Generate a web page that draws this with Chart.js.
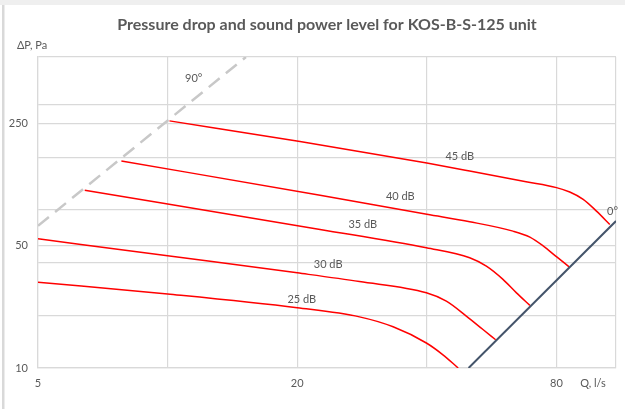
<!DOCTYPE html>
<html>
<head>
<meta charset="utf-8">
<script src="https://cdn.jsdelivr.net/npm/chart.js@4"></script>
<style>
  body { margin: 0; background: #fff; }
  #wrap { position: relative; width: 625px; height: 409px; }
</style>
</head>
<body>
<div id="wrap"><canvas id="myChart" width="625" height="409"></canvas></div>
<script>
// axis ticks (gridlines) and which ones get labels
const xGrid = [5, 10, 20, 40, 80, 110];
const xLabels = [5, 20, 80];
const yGrid = [10, 20, 40, 50, 80, 160, 250, 320, 600];
const yLabels = [10, 50, 250];

// damper position lines
const q90 = [5, 15.2];
const p90 = [65, 600];
const q0 = [50, 110];
const p0 = [10, 69.2];

// sound power level curves (Q l/s, dP Pa)
const q45 = [10.1, 20.3, 40, 50.3, 68, 80, 85.9, 92.3, 99.1, 106.4];
const p45 = [258.8, 197, 148.5, 133.8, 116.1, 107.5, 101.4, 92.1, 78.9, 66.2];
const q40 = [7.81, 22.6, 40, 50.3, 63.4, 69.4, 74.5, 80, 85.6];
const p40 = [152.7, 97.1, 75.6, 68.6, 60.6, 56.0, 49.9, 43.3, 37.9];
const q35 = [6.42, 22.6, 39.9, 50.3, 55, 60.1, 64.6, 69.4];
const p35 = [103.7, 62.0, 48.7, 42.7, 38.2, 32.1, 26.9, 22.8];
const q30 = [5, 10, 20, 27.9, 39.9, 44.4, 49.4, 54, 57.8];
const p30 = [54.8, 43.8, 35.0, 31.2, 26.9, 24.1, 19.8, 16.6, 14.5];
const q25 = [5, 10, 20, 27.9, 33.4, 39.9, 43.6, 47.3];
const p25 = [30.9, 26.5, 22.1, 19.6, 17.2, 13.9, 11.9, 10];

// curve labels: text, Q, dP
const labelText = ["45 dB", "40 dB", "35 dB", "30 dB", "25 dB", "90°", "0°"];
const labelQ = [47.7, 34.7, 28.4, 23.6, 20.5, 11.5, 108];
const labelP = [163, 95.4, 66.2, 39.1, 24.6, 452, 78.3];

const textColor = "#595959";
const gridColor = "#d9d9d9";

function pts(xs, ys) {
  return xs.map((x, i) => ({ x: x, y: ys[i] }));
}

function redLine(xs, ys) {
  return {
    data: pts(xs, ys),
    borderColor: "#ff0000",
    borderWidth: 1.5,
    pointRadius: 0,
    showLine: true,
    cubicInterpolationMode: "monotone",
  };
}

const framePlugin = {
  id: "frame",
  beforeDraw(chart) {
    const ctx = chart.ctx;
    ctx.save();
    ctx.fillStyle = "#fff";
    ctx.fillRect(0, 0, chart.width, chart.height);
    ctx.fillStyle = "#efefef";
    ctx.fillRect(0, 0, chart.width, 5);
    ctx.fillStyle = "#d9d9d9";
    ctx.fillRect(2, 5, 2.5, chart.height - 5);
    ctx.restore();
  },
  afterDraw(chart) {
    const ctx = chart.ctx;
    const xs = chart.scales.x;
    const ys = chart.scales.y;
    ctx.save();
    ctx.fillStyle = textColor;
    ctx.textAlign = "center";
    ctx.textBaseline = "middle";
    ctx.font = "bold 16px Lato";
    ctx.fillText("Pressure drop and sound power level for KOS-B-S-125 unit", 327, 25);
    ctx.font = "11px Lato";
    ctx.fillText("ΔP, Pa", 32, 45);
    ctx.fillText("Q, l/s", 593, 383);
    labelText.forEach((t, i) => {
      ctx.fillText(t, xs.getPixelForValue(labelQ[i]), ys.getPixelForValue(labelP[i]));
    });
    ctx.restore();
  },
};

new Chart("myChart", {
  type: "scatter",
  data: {
    datasets: [
      {
        data: pts(q90, p90),
        borderColor: "#c8c8c8",
        borderWidth: 2.5,
        borderDash: [14, 8],
        pointRadius: 0,
        showLine: true,
      },
      {
        data: pts(q0, p0),
        borderColor: "#44546a",
        borderWidth: 2,
        pointRadius: 0,
        showLine: true,
      },
      redLine(q45, p45),
      redLine(q40, p40),
      redLine(q35, p35),
      redLine(q30, p30),
      redLine(q25, p25),
    ],
  },
  options: {
    responsive: false,
    animation: false,
    layout: { padding: { top: 57, right: 9, left: 0, bottom: 0 } },
    plugins: {
      legend: { display: false },
      tooltip: { enabled: false },
    },
    scales: {
      x: {
        type: "logarithmic",
        min: 5,
        max: 110,
        afterBuildTicks: (s) => { s.ticks = xGrid.map((v) => ({ value: v })); },
        afterFit: (s) => { s.height = 41; },
        grid: { color: gridColor, lineWidth: 1.2, drawTicks: false },
        border: { color: gridColor, width: 1.2 },
        ticks: {
          color: textColor,
          font: { family: "Lato", size: 11 },
          padding: 9,
          maxRotation: 0,
          autoSkip: false,
          callback: (v) => (xLabels.includes(v) ? String(v) : ""),
        },
      },
      y: {
        type: "logarithmic",
        min: 10,
        max: 600,
        afterBuildTicks: (s) => { s.ticks = yGrid.map((v) => ({ value: v })); },
        afterFit: (s) => { s.width = 38; },
        grid: { color: gridColor, lineWidth: 1.2, drawTicks: false },
        border: { color: gridColor, width: 1.2 },
        ticks: {
          color: textColor,
          font: { family: "Lato", size: 11 },
          padding: 10,
          autoSkip: false,
          callback: (v) => (yLabels.includes(v) ? String(v) : ""),
        },
      },
    },
  },
  plugins: [framePlugin],
});
</script>
</body>
</html>
